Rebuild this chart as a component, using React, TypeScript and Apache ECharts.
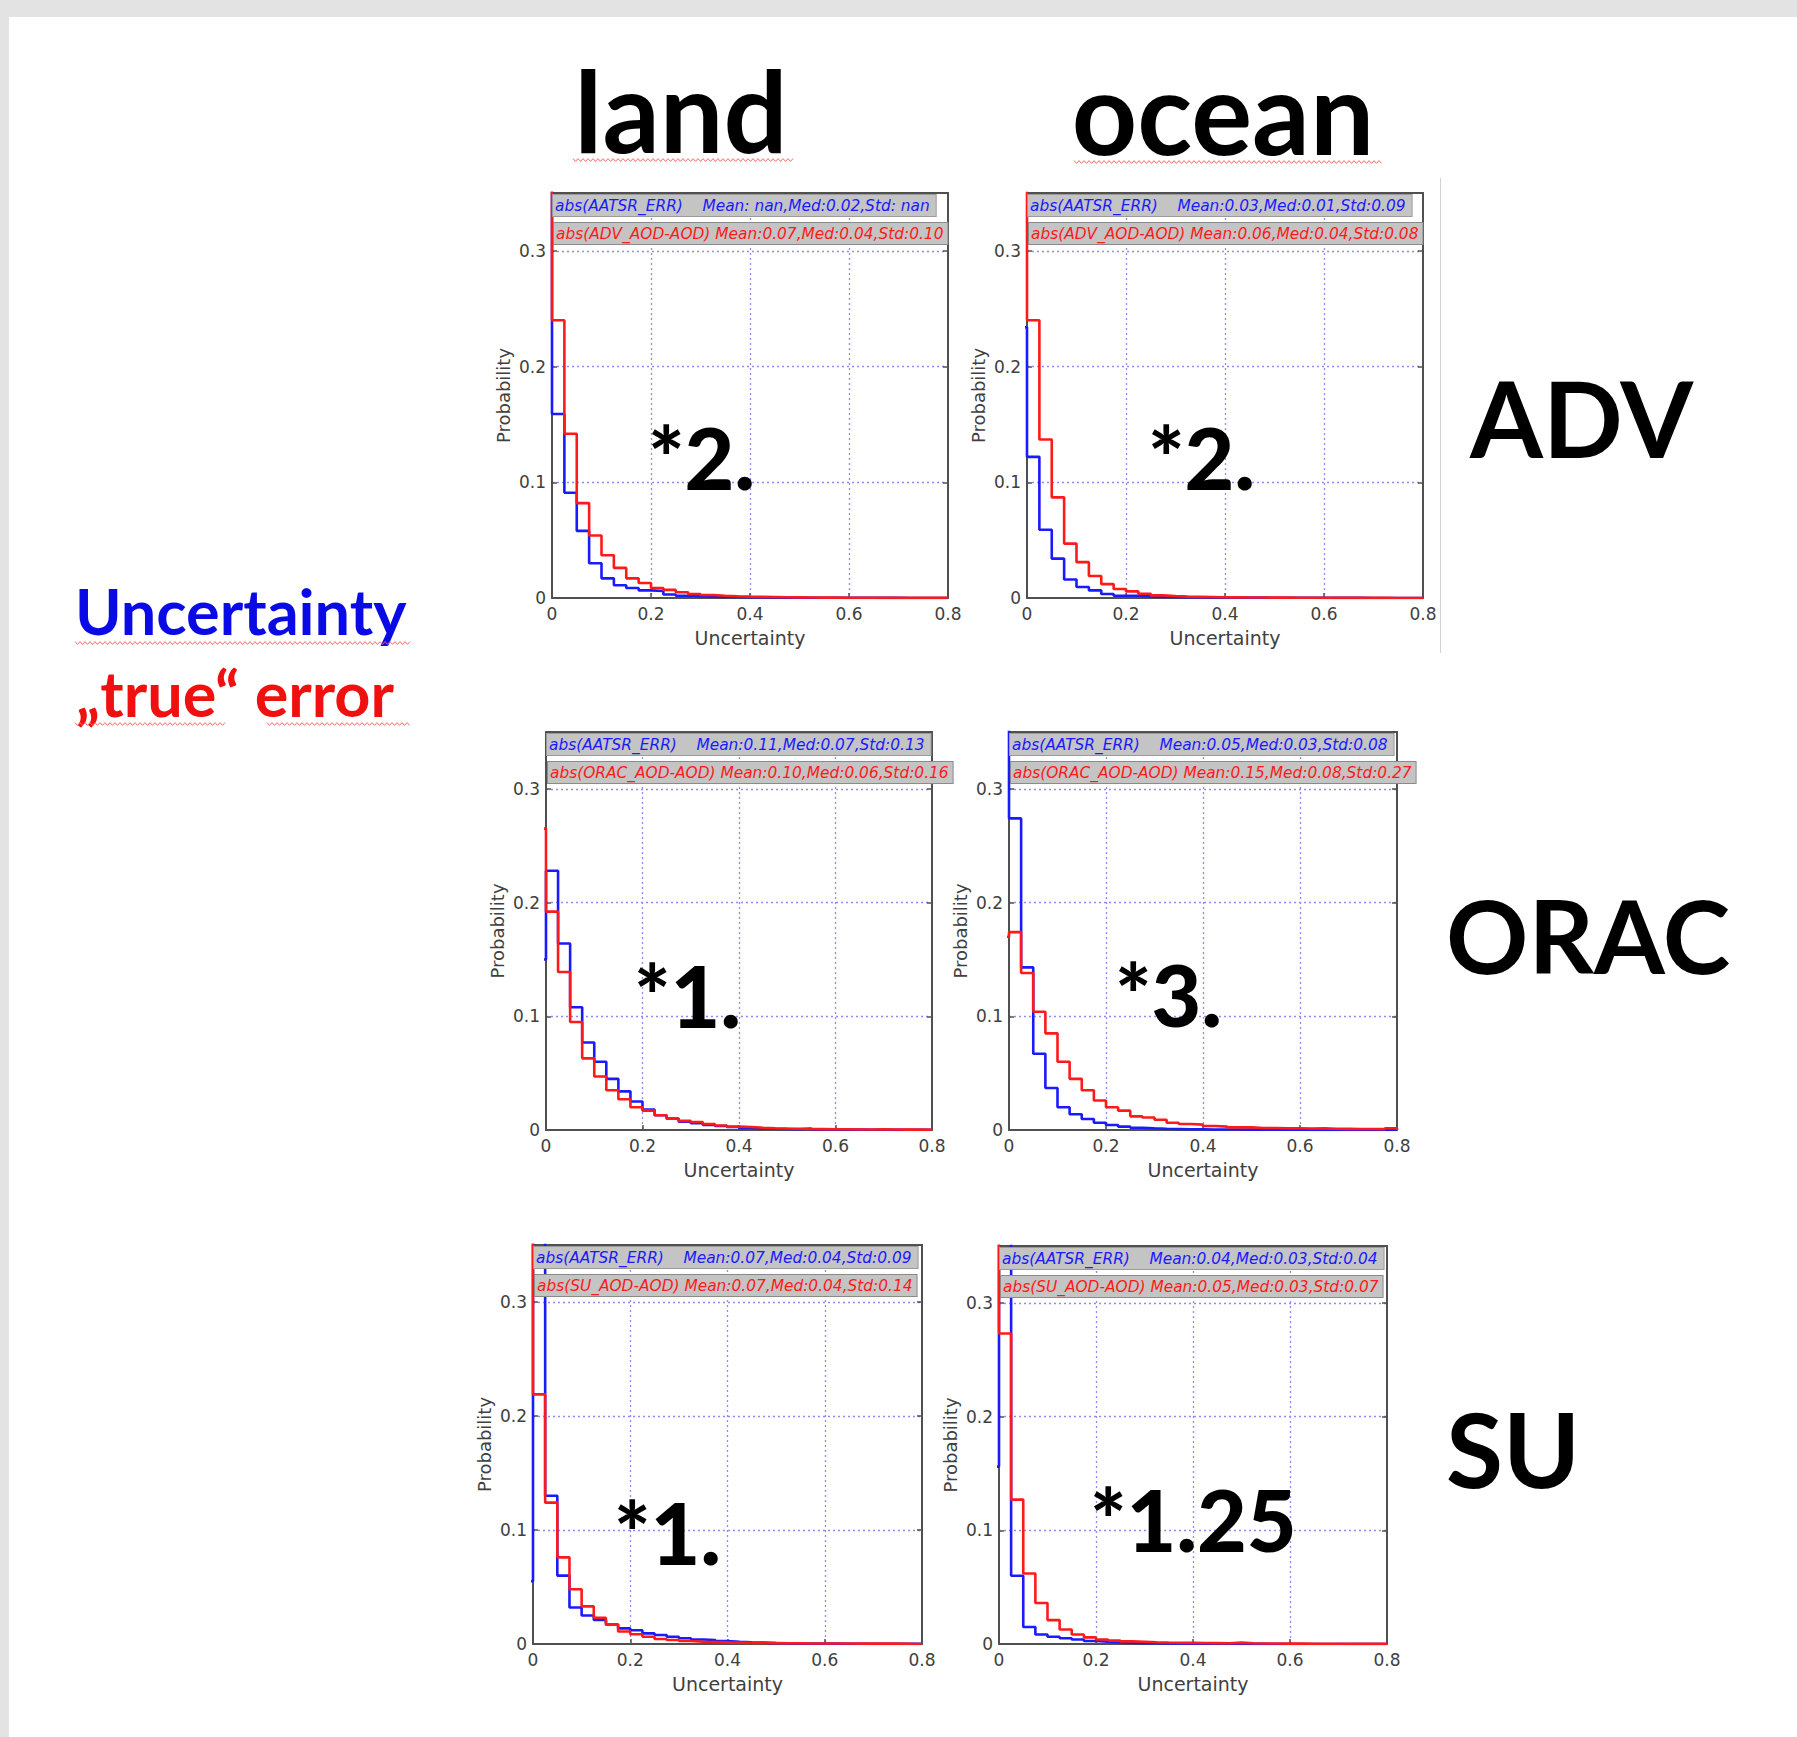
import React, { useEffect, useRef } from "react";
import * as echarts from "echarts";

// ---------------- data ----------------
// histogram bins: width 0.025, first bin is [-0.025, 0) (drawn clipped at x = 0)
const binStart = -0.025;
const binWidth = 0.025;
const xTickValues = [0, 0.2, 0.4, 0.6, 0.8];
const yTickValues = [0, 0.1, 0.2, 0.3];

const columnTitles = ["land", "ocean"];
const rowTitles = ["ADV", "ORAC", "SU"];
const factors = ["*2.", "*2.", "*1.", "*3.", "*1.", "*1.25"];

const landAdvBlue = [0.6, 0.159, 0.091, 0.058, 0.03, 0.017, 0.011, 0.0086, 0.0066, 0.006, 0.003, 0.002, 0.0015, 0.0012, 0.001, 0.0008, 0.0006, 0.0005, 0.0004, 0.0003, 0.0003, 0.0002, 0.0002, 0.0002, 0.0001, 0.0001, 0.0001, 0.0001, 0.0001, 0, 0, 0, 0];
const landAdvRed = [0.6, 0.24, 0.142, 0.082, 0.054, 0.037, 0.026, 0.017, 0.013, 0.0086, 0.007, 0.005, 0.0035, 0.0026, 0.002, 0.0015, 0.0012, 0.001, 0.0008, 0.0006, 0.0005, 0.0004, 0.0003, 0.0003, 0.0002, 0.0002, 0.0002, 0.0001, 0.0001, 0.0001, 0.0001, 0.0001, 0.0001];
const oceanAdvBlue = [0.234, 0.122, 0.059, 0.034, 0.016, 0.0095, 0.0066, 0.0034, 0.002, 0.002, 0.0014, 0.001, 0.0008, 0.0006, 0.0005, 0.0004, 0.0004, 0.0003, 0.0003, 0.0003, 0.0002, 0.0002, 0.0002, 0.0002, 0.0001, 0.0001, 0.0001, 0.0001, 0, 0, 0, 0, 0];
const oceanAdvRed = [0.6, 0.24, 0.137, 0.087, 0.047, 0.031, 0.019, 0.012, 0.0078, 0.0057, 0.0037, 0.0023, 0.0017, 0.0012, 0.001, 0.0008, 0.0006, 0.0005, 0.0004, 0.0004, 0.0003, 0.0003, 0.0002, 0.0002, 0.0002, 0.0001, 0.0001, 0.0001, 0.0001, 0.0001, 0, 0, 0];
const landOracBlue = [0.15, 0.228, 0.164, 0.108, 0.077, 0.06, 0.045, 0.034, 0.025, 0.018, 0.013, 0.01, 0.0073, 0.006, 0.0044, 0.0035, 0.0026, 0.0018, 0.0014, 0.0011, 0.0009, 0.0007, 0.0012, 0.0005, 0.0004, 0.0003, 0.0003, 0.0002, 0.0002, 0.0001, 0.0001, 0.0001, 0.0001];
const landOracRed = [0.265, 0.192, 0.139, 0.095, 0.063, 0.047, 0.035, 0.027, 0.02, 0.017, 0.013, 0.01, 0.008, 0.007, 0.0053, 0.004, 0.003, 0.0026, 0.002, 0.0016, 0.0013, 0.0011, 0.0009, 0.0008, 0.0007, 0.0006, 0.0005, 0.0005, 0.0006, 0.0004, 0.0003, 0.0003, 0.0002];
const oceanOracBlue = [0.6, 0.274, 0.143, 0.067, 0.037, 0.02, 0.0138, 0.0097, 0.0064, 0.0044, 0.003, 0.002, 0.0015, 0.0011, 0.0009, 0.0007, 0.0006, 0.0005, 0.0004, 0.0004, 0.0003, 0.0003, 0.0002, 0.0002, 0.0002, 0.0001, 0.0001, 0.0001, 0.0001, 0, 0, 0, 0];
const oceanOracRed = [0.17, 0.174, 0.138, 0.104, 0.085, 0.06, 0.045, 0.035, 0.026, 0.02, 0.017, 0.012, 0.011, 0.009, 0.0064, 0.0053, 0.0047, 0.0035, 0.003, 0.0023, 0.0023, 0.0018, 0.0018, 0.0015, 0.0015, 0.0013, 0.0014, 0.0011, 0.001, 0.0009, 0.0009, 0.0008, 0.0015];
const landSuBlue = [0.055, 0.6, 0.13, 0.06, 0.032, 0.025, 0.021, 0.017, 0.0137, 0.012, 0.0093, 0.0079, 0.0064, 0.005, 0.004, 0.0035, 0.0026, 0.002, 0.0015, 0.0012, 0.0008, 0.0006, 0.0005, 0.0004, 0.0003, 0.0003, 0.0002, 0.0002, 0.0001, 0.0001, 0.0001, 0.0001, 0.0001];
const landSuRed = [0.6, 0.219, 0.124, 0.076, 0.048, 0.033, 0.023, 0.017, 0.011, 0.0085, 0.0064, 0.0044, 0.0035, 0.0026, 0.002, 0.0017, 0.0014, 0.0012, 0.001, 0.0009, 0.0008, 0.0007, 0.0006, 0.0005, 0.0005, 0.0004, 0.0004, 0.0003, 0.0003, 0.0003, 0.0003, 0.0002, 0];
const oceanSuBlue = [0.156, 0.6, 0.06, 0.015, 0.0084, 0.0064, 0.005, 0.004, 0.0026, 0.002, 0.0015, 0.001, 0.0008, 0.0006, 0.0005, 0.0004, 0.0003, 0.0003, 0.0002, 0.0002, 0.0001, 0.0001, 0.0001, 0, 0, 0, 0, 0, 0, 0, 0, 0, 0];
const oceanSuRed = [0.6, 0.273, 0.127, 0.062, 0.036, 0.021, 0.0128, 0.0084, 0.0058, 0.004, 0.003, 0.0023, 0.002, 0.0016, 0.0013, 0.0011, 0.001, 0.0009, 0.0008, 0.0007, 0.0012, 0.0006, 0.0005, 0.0004, 0.0003, 0.0003, 0.0002, 0.0002, 0.0002, 0.0001, 0.0001, 0.0001, 0.0001];

const legendBlue = [
  "abs(AATSR_ERR)    Mean: nan,Med:0.02,Std: nan",
  "abs(AATSR_ERR)    Mean:0.03,Med:0.01,Std:0.09",
  "abs(AATSR_ERR)    Mean:0.11,Med:0.07,Std:0.13",
  "abs(AATSR_ERR)    Mean:0.05,Med:0.03,Std:0.08",
  "abs(AATSR_ERR)    Mean:0.07,Med:0.04,Std:0.09",
  "abs(AATSR_ERR)    Mean:0.04,Med:0.03,Std:0.04",
];
const legendRed = [
  "abs(ADV_AOD-AOD) Mean:0.07,Med:0.04,Std:0.10",
  "abs(ADV_AOD-AOD) Mean:0.06,Med:0.04,Std:0.08",
  "abs(ORAC_AOD-AOD) Mean:0.10,Med:0.06,Std:0.16",
  "abs(ORAC_AOD-AOD) Mean:0.15,Med:0.08,Std:0.27",
  "abs(SU_AOD-AOD) Mean:0.07,Med:0.04,Std:0.14",
  "abs(SU_AOD-AOD) Mean:0.05,Med:0.03,Std:0.07",
];
const blueSeries = [landAdvBlue, oceanAdvBlue, landOracBlue, oceanOracBlue, landSuBlue, oceanSuBlue];
const redSeries = [landAdvRed, oceanAdvRed, landOracRed, oceanOracRed, landSuRed, oceanSuRed];

// ---------------- layout ----------------
const panelLayout = [
  { left: 552, top: 193, width: 396, height: 405, starX: 648, starBase: 490 },
  { left: 1027, top: 193, width: 396, height: 405, starX: 1148, starBase: 490 },
  { left: 546, top: 732, width: 386, height: 398, starX: 634, starBase: 1028 },
  { left: 1009, top: 732, width: 388, height: 398, starX: 1115, starBase: 1027 },
  { left: 533, top: 1245, width: 389, height: 399, starX: 614, starBase: 1565 },
  { left: 999, top: 1246, width: 388, height: 398, starX: 1090, starBase: 1552 },
];
const columnTitleLayout = [
  { cx: 681, base: 153, size: 113 },
  { cx: 1223, base: 155, size: 114 },
];
const rowTitleLayout = [
  { x: 1470, base: 458, size: 105 },
  { x: 1446, base: 974, size: 102 },
  { x: 1446, base: 1488, size: 104 },
];

const BLUE = "#1a1aff";
const RED = "#ff1a1a";
const AXIS = "#505050";
const LABEL = "#404040";
const GRIDC = "#8c8cf2";
const LATO_MID = 0.387; // central baseline offset (em) for Lato
const DJV = '"DejaVu Sans", sans-serif';

function stepPoints(values: number[]) {
  const pts: number[][] = [[binStart, 0]];
  values.forEach((v, i) => {
    const x0 = +(binStart + i * binWidth).toFixed(4);
    const x1 = +(binStart + (i + 1) * binWidth).toFixed(4);
    pts.push([x0, v], [x1, v]);
  });
  pts.push([+(binStart + values.length * binWidth).toFixed(4), 0]);
  return pts;
}

function zigzag(x0: number, x1: number, y: number) {
  const pts: number[][] = [];
  let k = 0;
  for (let x = x0; x <= x1; x += 2.5) {
    pts.push([x, y + (k % 2 === 0 ? -1.4 : 1.4)]);
    k++;
  }
  return pts;
}

function buildOption() {
  const grid: any[] = [];
  const xAxis: any[] = [];
  const yAxis: any[] = [];
  const series: any[] = [];
  const graphic: any[] = [];
  const n = panelLayout.length;

  // background bands
  graphic.push({ type: "rect", shape: { x: 0, y: 0, width: 1797, height: 17 }, style: { fill: "#e3e3e3" }, silent: true });
  graphic.push({ type: "rect", shape: { x: 0, y: 0, width: 9, height: 1737 }, style: { fill: "#e3e3e3" }, silent: true });
  graphic.push({ type: "line", shape: { x1: 1440.5, y1: 178, x2: 1440.5, y2: 653 }, style: { stroke: "#d2d2d2", lineWidth: 1 }, silent: true });

  panelLayout.forEach((p) => {
    grid.push({ left: p.left, top: p.top, width: p.width, height: p.height, containLabel: false, show: true, backgroundColor: "#fff", borderWidth: 0 });
  });

  const tick = { show: true, inside: true, length: 5, lineStyle: { color: AXIS, width: 1.5 } };
  const frame = { show: true, lineStyle: { color: AXIS, width: 2 } };
  const split = { show: true, showMinLine: false, showMaxLine: false, lineStyle: { color: GRIDC, width: 1.3, type: [2, 3] } };

  // bottom x axes
  for (let i = 0; i < n; i++) {
    xAxis.push({
      gridIndex: i, type: "value", position: "bottom", min: xTickValues[0], max: xTickValues[xTickValues.length - 1],
      interval: xTickValues[1] - xTickValues[0],
      axisLine: { ...frame, onZero: false }, axisTick: tick, splitLine: split,
      axisLabel: { color: LABEL, fontSize: 17, fontFamily: DJV, margin: 7 },
      name: "Uncertainty", nameLocation: "middle", nameGap: 30,
      nameTextStyle: { color: LABEL, fontSize: 19, fontFamily: DJV },
    });
  }
  // top x axes (frame + ticks)
  for (let i = 0; i < n; i++) {
    xAxis.push({
      gridIndex: i, type: "value", position: "top", min: xTickValues[0], max: xTickValues[xTickValues.length - 1],
      interval: xTickValues[1] - xTickValues[0],
      axisLine: { ...frame, onZero: false }, axisTick: tick, splitLine: { show: false }, axisLabel: { show: false },
    });
  }
  // left y axes
  for (let i = 0; i < n; i++) {
    yAxis.push({
      gridIndex: i, type: "value", position: "left", min: yTickValues[0], max: 0.35,
      interval: yTickValues[1] - yTickValues[0],
      axisLine: { ...frame, onZero: false }, axisTick: tick, splitLine: split,
      axisLabel: { color: LABEL, fontSize: 17, fontFamily: DJV, margin: 6, showMaxLabel: false },
      name: "Probability", nameLocation: "middle", nameGap: 40, nameRotate: 90,
      nameTextStyle: { color: LABEL, fontSize: 18, fontFamily: DJV },
    });
  }
  // right y axes
  for (let i = 0; i < n; i++) {
    yAxis.push({
      gridIndex: i, type: "value", position: "right", min: yTickValues[0], max: 0.35,
      interval: yTickValues[1] - yTickValues[0],
      axisLine: { ...frame, onZero: false }, axisTick: tick, splitLine: { show: false }, axisLabel: { show: false },
    });
  }

  for (let i = 0; i < n; i++) {
    series.push({
      type: "line", xAxisIndex: i, yAxisIndex: i, data: stepPoints(blueSeries[i]),
      symbol: "none", showSymbol: false, clip: true, silent: true, z: 3,
      lineStyle: { color: BLUE, width: 2.6 },
    });
    series.push({
      type: "line", xAxisIndex: i, yAxisIndex: i, data: stepPoints(redSeries[i]),
      symbol: "none", showSymbol: false, clip: true, silent: true, z: 4,
      lineStyle: { color: RED, width: 2.6 },
    });
  }

  // legend boxes + factor annotations
  panelLayout.forEach((p, i) => {
    graphic.push({
      type: "text", x: p.left + 1, y: p.top + 12.5, z: 20, silent: true,
      style: {
        text: legendBlue[i].replace(/ /g, "\u00a0"), fill: BLUE, fontSize: 15.4, fontStyle: "italic", fontFamily: DJV,
        align: "left", verticalAlign: "middle", backgroundColor: "#c4c4c4", borderColor: "#9a9a9a", borderWidth: 1,
        padding: [3, 6, 3, 2],
      },
    });
    graphic.push({
      type: "text", x: p.left + 2, y: p.top + 40.5, z: 20, silent: true,
      style: {
        text: legendRed[i].replace(/ /g, "\u00a0"), fill: RED, fontSize: 15.4, fontStyle: "italic", fontFamily: DJV,
        align: "left", verticalAlign: "middle", backgroundColor: "#c4c4c4", borderColor: "#8a8a8a", borderWidth: 1,
        padding: [3, 4, 3, 2],
      },
    });
    graphic.push({
      type: "text", x: p.starX, y: p.starBase - LATO_MID * 86, z: 21, silent: true,
      style: { text: factors[i], fill: "#000", fontSize: 86, fontWeight: 900, fontFamily: "Lato", align: "left", verticalAlign: "middle" },
    });
  });

  // column titles
  columnTitles.forEach((t, i) => {
    const c = columnTitleLayout[i];
    graphic.push({
      type: "text", x: c.cx, y: c.base - LATO_MID * c.size, silent: true,
      style: { text: t, fill: "#000", fontSize: c.size, fontWeight: "bold", fontFamily: "Lato", align: "center", verticalAlign: "middle" },
    });
  });
  graphic.push({ type: "polyline", shape: { points: zigzag(573, 793, 160) }, style: { stroke: "#ff6666", lineWidth: 1, fill: null }, silent: true });
  graphic.push({ type: "polyline", shape: { points: zigzag(1074, 1383, 162) }, style: { stroke: "#ff6666", lineWidth: 1, fill: null }, silent: true });

  // row titles
  rowTitles.forEach((t, i) => {
    const r = rowTitleLayout[i];
    graphic.push({
      type: "text", x: r.x, y: r.base - LATO_MID * r.size, silent: true,
      style: { text: t, fill: "#000", fontSize: r.size, fontWeight: "bold", fontFamily: "Lato", align: "left", verticalAlign: "middle" },
    });
  });

  // left legend words
  graphic.push({
    type: "text", x: 75, y: 635 - LATO_MID * 63, silent: true,
    style: { text: "Uncertainty", fill: "#0a0ae6", fontSize: 63, fontWeight: "bold", fontFamily: "Lato", align: "left", verticalAlign: "middle" },
  });
  graphic.push({
    type: "text", x: 76, y: 717 - LATO_MID * 63, silent: true,
    style: { text: "\u201etrue\u201c error", fill: "#f01010", fontSize: 63, fontWeight: "bold", fontFamily: "Lato", align: "left", verticalAlign: "middle" },
  });
  graphic.push({ type: "polyline", shape: { points: zigzag(75, 412, 643) }, style: { stroke: "#ff6666", lineWidth: 1, fill: null }, silent: true });
  graphic.push({ type: "polyline", shape: { points: zigzag(75, 225, 724) }, style: { stroke: "#ff6666", lineWidth: 1, fill: null }, silent: true });
  graphic.push({ type: "polyline", shape: { points: zigzag(267, 410, 724) }, style: { stroke: "#ff6666", lineWidth: 1, fill: null }, silent: true });

  return {
    animation: false,
    backgroundColor: "#ffffff",
    grid, xAxis, yAxis, series, graphic,
  };
}

export default function App() {
  const ref = useRef<HTMLDivElement>(null);
  useEffect(() => {
    if (!ref.current) return;
    const chart = echarts.init(ref.current, undefined, { renderer: "svg" });
    chart.setOption(buildOption());
    return () => chart.dispose();
  }, []);
  return (
    <div
      ref={ref}
      style={{ position: "absolute", left: 0, top: 0, width: 1797, height: 1737 }}
    />
  );
}
